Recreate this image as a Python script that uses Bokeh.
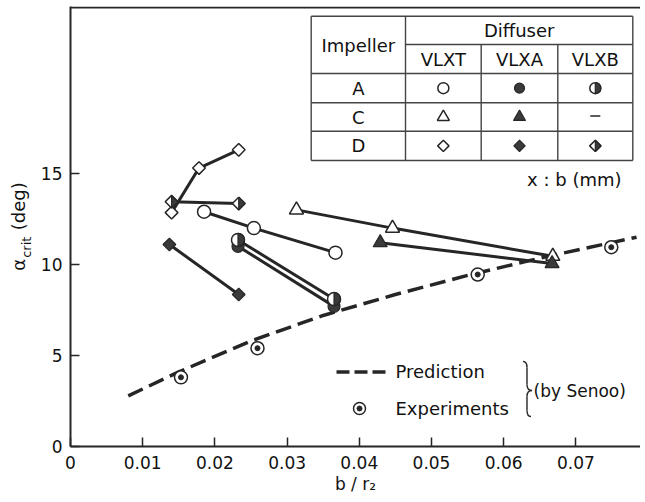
import math
from bokeh.plotting import figure
from bokeh.models import Range1d, FixedTicker, Span, Label, LinearAxis
from bokeh.embed import file_html
from bokeh.resources import INLINE

# ---------------- data ----------------
x_ticks = [0, 0.01, 0.02, 0.03, 0.04, 0.05, 0.06, 0.07]
y_ticks = [0, 5, 10, 15]

a_vlxt_x = [0.0185, 0.0254, 0.0367]
a_vlxt_y = [12.9, 12.0, 10.65]
a_vlxa_x = [0.0232, 0.0365]
a_vlxa_y = [11.0, 7.7]
a_vlxb_x = [0.0232, 0.0365]
a_vlxb_y = [11.35, 8.1]
c_vlxt_x = [0.0313, 0.0446, 0.0668]
c_vlxt_y = [13.0, 12.0, 10.45]
c_vlxa_x = [0.0429, 0.0667]
c_vlxa_y = [11.2, 10.05]
d_vlxt_x = [0.0140, 0.0178, 0.0233]
d_vlxt_y = [12.85, 15.3, 16.3]
d_vlxa_x = [0.0137, 0.0233]
d_vlxa_y = [11.1, 8.35]
d_vlxb_x = [0.0140, 0.0233]
d_vlxb_y = [13.45, 13.35]
senoo_x = [0.0153, 0.0259, 0.0564, 0.0749]
senoo_y = [3.8, 5.4, 9.45, 10.95]
pred_x = [0.008, 0.015, 0.025, 0.035, 0.045, 0.055, 0.065, 0.0784]
pred_y = [2.78, 4.1, 5.8, 7.2, 8.35, 9.4, 10.35, 11.5]

# ---------------- layout helpers ----------------
FIG_W, FIG_H = 640, 500
OFF = 1                     # page offset of the figure
PX0, PY0 = 71.0, 447.0      # page px of data origin
TOPPX = 7.0                 # page px of frame top
LEFT = int(PX0 - OFF)
TOP = int(TOPPX - OFF)
BOTTOM = int(FIG_H - (PY0 - OFF))
SX = 7220.0   # px per x unit
SY = 18.2     # px per y unit
X_END = (FIG_W - LEFT) / SX
Y_END = (PY0 - TOPPX) / SY


def X(px):
    return (px - PX0) / SX


def Y(py):
    return (PY0 - py) / SY


INK = "#262626"
DARK = "#3a3a3a"
FONT = "DejaVu Sans"
NB = "\u00a0"

p = figure(width=FIG_W, height=FIG_H, output_backend="svg", toolbar_location=None,
           x_range=Range1d(0, X_END), y_range=Range1d(0, Y_END),
           min_border_left=LEFT, min_border_right=0, min_border_top=TOP,
           min_border_bottom=BOTTOM)
p.outline_line_color = None
p.grid.visible = False
for ax in (p.xaxis[0], p.yaxis[0]):
    ax.axis_line_width = 2
    ax.axis_line_color = INK
    ax.major_tick_in = 9
    ax.major_tick_out = 0
    ax.major_tick_line_width = 1.5
    ax.major_tick_line_color = INK
    ax.minor_tick_line_color = None
    ax.major_label_text_font = FONT
    ax.major_label_text_font_size = "17px"
    ax.major_label_text_color = "#111111"
    ax.axis_label_text_font = FONT
    ax.axis_label_text_font_style = "normal"
    ax.axis_label_text_color = "#111111"
p.xaxis.ticker = FixedTicker(ticks=x_ticks)
p.yaxis.ticker = FixedTicker(ticks=y_ticks)
p.xaxis.major_label_overrides = {0: "0"}
p.xaxis.major_label_standoff = 9
p.yaxis.major_label_standoff = 8

# axis titles
p.xaxis.axis_label = "b / r\u2082"
p.xaxis.axis_label_text_font_size = "17px"
p.xaxis.axis_label_standoff = 2
p.yaxis.axis_label = "crit" + NB * 10
p.yaxis.axis_label_text_font_size = "13px"
p.yaxis.axis_label_standoff = 4
lab_ax = LinearAxis(ticker=FixedTicker(ticks=[]), axis_line_color=None,
                    major_tick_line_color=None, minor_tick_line_color=None,
                    major_label_text_font_size="0px",
                    axis_label="\u03b1" + NB * 5 + "(deg)",
                    axis_label_text_font=FONT, axis_label_text_font_size="18px",
                    axis_label_text_font_style="normal",
                    axis_label_text_color="#111111",
                    axis_label_standoff=-13)
p.add_layout(lab_ax, "left")

# top frame line
p.add_layout(Span(location=Y(TOPPX + 1), dimension="width", line_color=INK, line_width=2))


# ---------------- marker helpers ----------------
def open_circle(xs, ys, size=13):
    p.scatter(xs, ys, marker="circle", size=size, fill_color="white",
              line_color=INK, line_width=1.5)


def filled_circle(xs, ys, size=12):
    p.scatter(xs, ys, marker="circle", size=size, fill_color=DARK,
              line_color=INK, line_width=1.2)


def half_circle(xs, ys, size=13):
    open_circle(xs, ys, size)
    p.wedge(xs, ys, radius=size / 2.0, radius_units="screen",
            start_angle=-math.pi / 2, end_angle=math.pi / 2,
            fill_color=DARK, line_color=INK, line_width=1.2)


def open_tri(xs, ys, size=14):
    p.scatter(xs, ys, marker="triangle", size=size, fill_color="white",
              line_color=INK, line_width=1.5)


def filled_tri(xs, ys, size=14):
    p.scatter(xs, ys, marker="triangle", size=size, fill_color=DARK,
              line_color=INK, line_width=1.2)


def open_diamond(xs, ys, size=9):
    p.scatter(xs, ys, marker="square", angle=math.pi / 4, size=size,
              fill_color="white", line_color=INK, line_width=1.5)


def filled_diamond(xs, ys, size=9):
    p.scatter(xs, ys, marker="square", angle=math.pi / 4, size=size,
              fill_color=DARK, line_color=INK, line_width=1.2)


def half_diamond(xs, ys, size=9):
    open_diamond(xs, ys, size)
    h = size * math.sqrt(2) / 2.0
    pxs, pys = [], []
    for x, y in zip(xs, ys):
        pxs.append([x, x + h / SX, x])
        pys.append([y + h / SY, y, y - h / SY])
    p.patches(pxs, pys, fill_color=DARK, line_color=INK, line_width=1.2)


def senoo(xs, ys, size=13):
    p.scatter(xs, ys, marker="circle", size=size, fill_color="white",
              line_color=INK, line_width=1.5)
    p.scatter(xs, ys, marker="circle", size=5, fill_color=INK, line_color=INK)


# ---------------- prediction curve ----------------
p.line(pred_x, pred_y, line_color=INK, line_width=3.5, line_dash="16 7")

# ---------------- series lines ----------------
for xs, ys in [(a_vlxt_x, a_vlxt_y), (a_vlxa_x, a_vlxa_y), (a_vlxb_x, a_vlxb_y),
               (c_vlxt_x, c_vlxt_y), (c_vlxa_x, c_vlxa_y), (d_vlxt_x, d_vlxt_y),
               (d_vlxa_x, d_vlxa_y), (d_vlxb_x, d_vlxb_y)]:
    p.line(xs, ys, line_color=INK, line_width=3)

# ---------------- markers ----------------
senoo(senoo_x, senoo_y)
open_circle(a_vlxt_x, a_vlxt_y)
filled_circle(a_vlxa_x, a_vlxa_y)
half_circle(a_vlxb_x, a_vlxb_y)
open_tri(c_vlxt_x, c_vlxt_y)
filled_tri(c_vlxa_x, c_vlxa_y)
open_diamond(d_vlxt_x, d_vlxt_y)
filled_diamond(d_vlxa_x, d_vlxa_y)
half_diamond(d_vlxb_x, d_vlxb_y)

# ---------------- table ----------------
TL, TR, TT, TB = 311.7, 633.3, 16.7, 161.0
C1, C2, C3 = 406.0, 481.7, 558.3
R0, R1, R2, R3 = 45.0, 74.0, 103.3, 131.7
seg_x0 = [TL, TR, TL, TL, C1, C1, TL, TL, TL, C2, C3]
seg_y0 = [TT, TT, TT, TB, R0, TT, R1, R2, R3, R0, R0]
seg_x1 = [TR, TR, TL, TR, TR, C1, TR, TR, TR, C2, C3]
seg_y1 = [TT, TB, TB, TB, R0, TB, R1, R2, R3, TB, TB]
p.segment([X(v) for v in seg_x0], [Y(v) for v in seg_y0],
          [X(v) for v in seg_x1], [Y(v) for v in seg_y1],
          line_color="#444444", line_width=1.4)


def label(px, py, text, size="18px", align="center", baseline="middle",
          angle=0.0, font=FONT, style="normal"):
    p.add_layout(Label(x=X(px), y=Y(py), text=text, text_font=font,
                       text_font_size=size, text_align=align,
                       text_baseline=baseline, angle=angle,
                       text_font_style=style, text_color="#111111"))


label((TL + C1) / 2, 46, "Impeller")
label((C1 + TR) / 2, 31, "Diffuser")
col_c = [(C1 + C2) / 2, (C2 + C3) / 2, (C3 + TR) / 2]
row_c = [(R1 + R2) / 2, (R2 + R3) / 2, (R3 + TB) / 2]
for cx, t in zip(col_c, ["VLXT", "VLXA", "VLXB"]):
    label(cx, 60, t)
for ry, t in zip(row_c, ["A", "C", "D"]):
    label((TL + C1) / 2, ry, t)

open_circle([X(col_c[0])], [Y(row_c[0])], 11)
filled_circle([X(col_c[1])], [Y(row_c[0])], 10)
half_circle([X(col_c[2])], [Y(row_c[0])], 11)
open_tri([X(col_c[0])], [Y(row_c[1])], 12)
filled_tri([X(col_c[1])], [Y(row_c[1])], 12)
p.segment([X(col_c[2] - 5)], [Y(row_c[1] - 1)], [X(col_c[2] + 5)], [Y(row_c[1] - 1)],
          line_color=INK, line_width=1.3)
open_diamond([X(col_c[0])], [Y(row_c[2])], 8)
filled_diamond([X(col_c[1])], [Y(row_c[2])], 8)
half_diamond([X(col_c[2])], [Y(row_c[2])], 8)

label(622, 180, "x : b (mm)", align="right")

# ---------------- legend (by Senoo) ----------------
p.line([X(337), X(391)], [Y(372.5), Y(372.5)], line_color=INK, line_width=3.5,
       line_dash="13 5")
label(396, 372, "Prediction", align="left")
senoo([X(360)], [Y(409)], 12)
label(396, 409, "Experiments", align="left")
# brace
bx, btop, bbot, bmid = 527.5, 362.0, 417.0, 391.0
p.quadratic([X(bx - 4), X(bx), X(bx), X(bx + 4)],
            [Y(btop), Y(bmid - 6), Y(bmid + 6), Y(bbot)],
            [X(bx), X(bx + 5), X(bx + 5), X(bx)],
            [Y(btop + 6), Y(bmid), Y(bmid), Y(bbot - 6)],
            [X(bx), X(bx), X(bx), X(bx)],
            [Y(btop), Y(bmid), Y(bmid), Y(bbot)],
            line_color=INK, line_width=1.4)
p.segment([X(bx), X(bx)], [Y(btop + 6), Y(bmid + 6)], [X(bx), X(bx)],
          [Y(bmid - 6), Y(bbot - 6)], line_color=INK, line_width=1.4)
label(534, 391, "(by Senoo)", size="17px", align="left")

open("out.html", "w").write(file_html(p, INLINE))
